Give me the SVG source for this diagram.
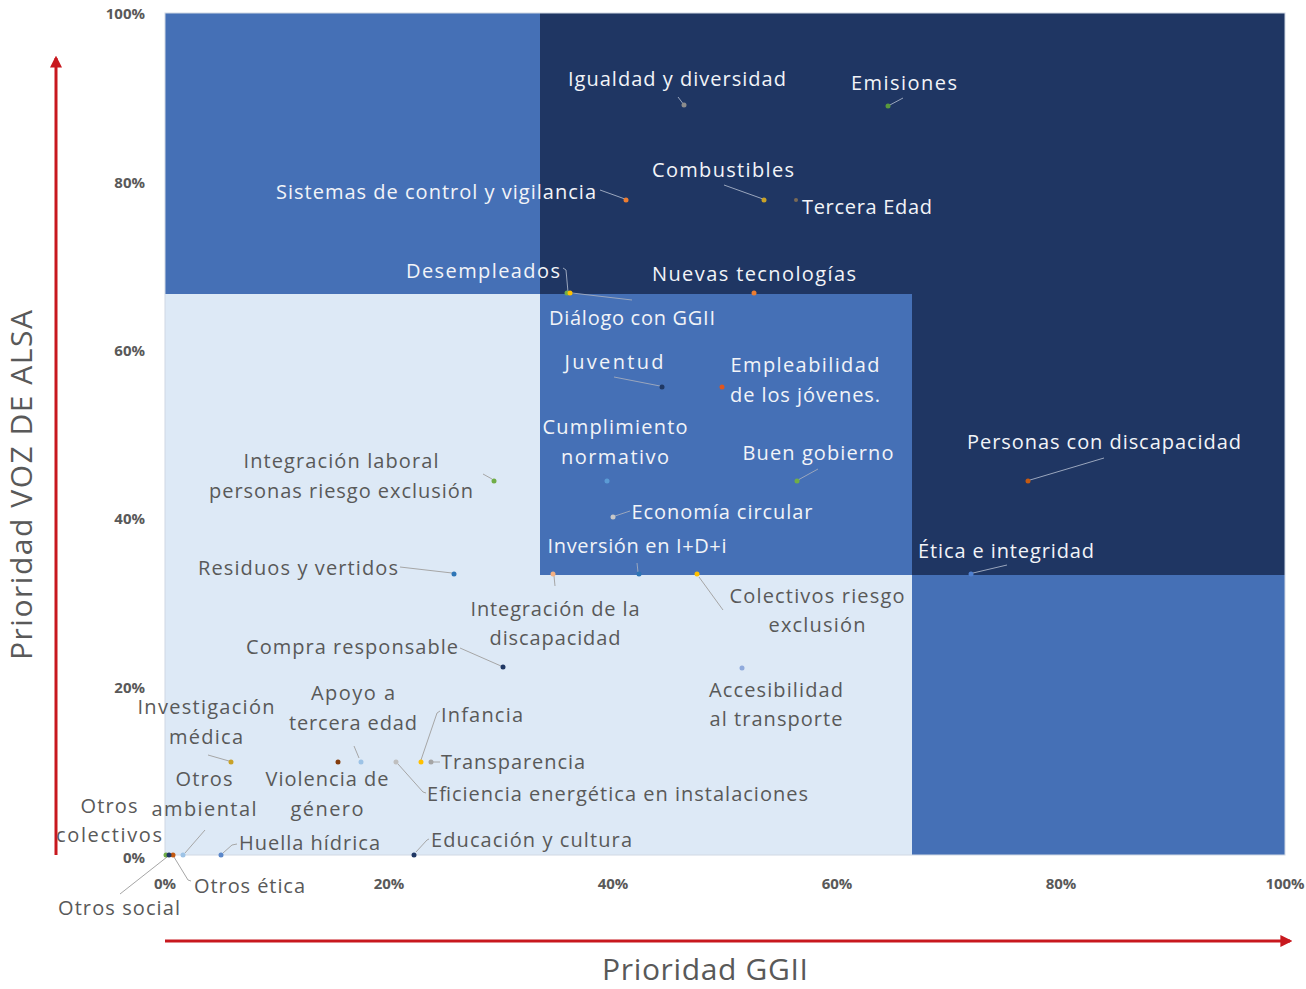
<svg xmlns="http://www.w3.org/2000/svg" width="1306" height="989" viewBox="0 0 1306 989">
<style>
text{font-family:"Open Sans","Liberation Sans",sans-serif}
.lw{font-size:20px;fill:#f2f4f8}
.lg{font-size:20px;fill:#595959}
.tk{font-size:15px;font-weight:bold;fill:#595959}
.ax{font-size:30px;fill:#595959}
.m{text-anchor:middle}
.cw{fill:none;stroke:#9aa6bd;stroke-width:1}
.cg{fill:none;stroke:#a6a6a6;stroke-width:1}
</style>
<defs>
<marker id="ah" viewBox="0 0 10 10" refX="8" refY="5" markerWidth="4" markerHeight="4" orient="auto"><path d="M0,0 L10,5 L0,10 z" fill="#c8181e"/></marker>
</defs>
<rect width="1306" height="989" fill="#ffffff"/>
<g id="quadrants">
<rect x="165" y="13" width="1120" height="842" fill="#4570b6"/>
<path d="M540,13 H1285 V575 H912 V294 H540 Z" fill="#1f3663"/>
<path d="M165,294 H540 V575 H912 V855 H165 Z" fill="#dde9f6"/>
<rect x="165" y="13" width="1120" height="842" fill="none" stroke="#d0d8e4" stroke-width="1"/>
</g>
<g id="axes">
<line x1="56" y1="855" x2="56" y2="58" stroke="#c8181e" stroke-width="3" marker-end="url(#ah)"/>
<line x1="165" y1="941" x2="1290" y2="941" stroke="#c8181e" stroke-width="3" marker-end="url(#ah)"/>
<text class="ax m" transform="translate(32,485) rotate(-90)" textLength="350">Prioridad VOZ DE ALSA</text>
<text class="ax m" x="705" y="980" textLength="206">Prioridad GGII</text>
<g text-anchor="end">
<text class="tk" x="145" y="19">100%</text>
<text class="tk" x="145" y="188">80%</text>
<text class="tk" x="145" y="356">60%</text>
<text class="tk" x="145" y="524">40%</text>
<text class="tk" x="145" y="693">20%</text>
<text class="tk" x="145" y="863">0%</text>
</g>
<g text-anchor="middle">
<text class="tk" x="165" y="889">0%</text>
<text class="tk" x="389" y="889">20%</text>
<text class="tk" x="613" y="889">40%</text>
<text class="tk" x="837" y="889">60%</text>
<text class="tk" x="1061" y="889">80%</text>
<text class="tk" x="1285" y="889">100%</text>
</g>
</g>
<g id="connectors">
<path class="cw" d="M678,97 L684,105"/>
<path class="cw" d="M888,106 L903,98"/>
<path class="cw" d="M724,185 L763,199"/>
<path class="cw" d="M600,190 L625,199"/>
<path class="cw" d="M563,268 L566,270 L568,292"/>
<path class="cw" d="M572,293 L632,300"/>
<path class="cw" d="M614,377 L660,386"/>
<path class="cw" d="M798,480 L818,469"/>
<path class="cw" d="M615,516 L630,511"/>
<path class="cw" d="M637,563 L638,572"/>
<path class="cw" d="M1030,480 L1104,458"/>
<path class="cw" d="M973,573 L1007,565"/>
<path class="cg" d="M483,474 L492,479"/>
<path class="cg" d="M400,567 L452,573"/>
<path class="cg" d="M554,576 L555,586"/>
<path class="cg" d="M699,577 L723,610"/>
<path class="cg" d="M460,648 L501,666"/>
<path class="cg" d="M421,760 L437,713 L440,711"/>
<path class="cg" d="M433,762 L440,762"/>
<path class="cg" d="M398,764 L423,792 L426,793"/>
<path class="cg" d="M416,852 L427,840 L429,839"/>
<path class="cg" d="M354,746 L359,758"/>
<path class="cg" d="M208,755 L229,761"/>
<path class="cg" d="M205,830 L185,853"/>
<path class="cg" d="M223,853 L232,845 L237,844"/>
<path class="cg" d="M174,857 L188,880 L191,881"/>
<path class="cg" d="M120,894 L167,857"/>
</g>
<g id="n-igualdad"><circle cx="684" cy="105" r="2.5" fill="#8c8c8c"/><text class="lw m" x="677" y="86" textLength="218">Igualdad y diversidad</text></g>
<g id="n-emisiones"><circle cx="888" cy="106" r="2.5" fill="#5a9a3c"/><text class="lw m" x="904" y="90" textLength="106">Emisiones</text></g>
<g id="n-combustibles"><circle cx="764" cy="200" r="2.5" fill="#c9a227"/><text class="lw m" x="723" y="177" textLength="142">Combustibles</text></g>
<g id="n-tercera"><circle cx="796" cy="200" r="2" fill="#7a6a55"/><text class="lw" x="802" y="214" textLength="130">Tercera Edad</text></g>
<g id="n-sistemas"><circle cx="626" cy="200" r="2.5" fill="#ed7d31"/><text class="lw m" x="436" y="199" textLength="320">Sistemas de control y vigilancia</text></g>
<g id="n-desempleados"><circle cx="567" cy="293" r="2.5" fill="#70ad47"/><text class="lw m" x="483" y="278" textLength="154">Desempleados</text></g>
<g id="n-nuevas"><circle cx="754" cy="293" r="2.5" fill="#ed7d31"/><text class="lw m" x="754" y="281" textLength="204">Nuevas tecnologías</text></g>
<g id="n-dialogo"><circle cx="570" cy="293" r="2.5" fill="#ffc000"/><text class="lw m" x="632" y="325" textLength="166">Diálogo con GGII</text></g>
<g id="n-juventud"><circle cx="662" cy="387" r="2.5" fill="#1f3864"/><text class="lw m" x="614" y="369" textLength="99">Juventud</text></g>
<g id="n-empleabilidad"><circle cx="722" cy="387" r="2.5" fill="#e0561e"/><text class="lw m" x="805" y="372" textLength="149">Empleabilidad</text><text class="lw m" x="805" y="402" textLength="150">de los jóvenes.</text></g>
<g id="n-cumplimiento"><circle cx="607" cy="481" r="2.5" fill="#5b9bd5"/><text class="lw m" x="615" y="434" textLength="145">Cumplimiento</text><text class="lw m" x="615" y="464" textLength="108">normativo</text></g>
<g id="n-buen"><circle cx="797" cy="481" r="2.5" fill="#70ad47"/><text class="lw m" x="818" y="460" textLength="151">Buen gobierno</text></g>
<g id="n-economia"><circle cx="613" cy="517" r="2.5" fill="#c8c8c8"/><text class="lw m" x="722" y="519" textLength="181">Economía circular</text></g>
<g id="n-inversion"><circle cx="639" cy="574" r="2.5" fill="#2e75b6"/><text class="lw m" x="637" y="553" textLength="179">Inversión en I+D+i</text></g>
<g id="n-personas"><circle cx="1028" cy="481" r="2.5" fill="#c55a11"/><text class="lw m" x="1104" y="449" textLength="274">Personas con discapacidad</text></g>
<g id="n-etica"><circle cx="971" cy="574" r="2.5" fill="#4f7fcf"/><text class="lw m" x="1006" y="558" textLength="176">Ética e integridad</text></g>
<g id="n-integracion-laboral"><circle cx="494" cy="481" r="2.5" fill="#70ad47"/><text class="lg m" x="341" y="468" textLength="195">Integración laboral</text><text class="lg m" x="341" y="498" textLength="264">personas riesgo exclusión</text></g>
<g id="n-residuos"><circle cx="454" cy="574" r="2.5" fill="#2e75b6"/><text class="lg m" x="298" y="575" textLength="200">Residuos y vertidos</text></g>
<g id="n-integracion-discapacidad"><circle cx="553" cy="574" r="2.5" fill="#f4b183"/><text class="lg m" x="555" y="616" textLength="169">Integración de la</text><text class="lg m" x="555" y="645" textLength="131">discapacidad</text></g>
<g id="n-colectivos"><circle cx="697" cy="574" r="2.5" fill="#ffc000"/><text class="lg m" x="817" y="603" textLength="175">Colectivos riesgo</text><text class="lg m" x="817" y="632" textLength="97">exclusión</text></g>
<g id="n-compra"><circle cx="503" cy="667" r="2.5" fill="#203864"/><text class="lg m" x="352" y="654" textLength="212">Compra responsable</text></g>
<g id="n-accesibilidad"><circle cx="742" cy="668" r="2.5" fill="#8faadc"/><text class="lg m" x="776" y="697" textLength="134">Accesibilidad</text><text class="lg m" x="776" y="726" textLength="133">al transporte</text></g>
<g id="n-infancia"><circle cx="421" cy="762" r="2.5" fill="#ffc000"/><text class="lg" x="441" y="722" textLength="82">Infancia</text></g>
<g id="n-transparencia"><circle cx="431" cy="762" r="2.5" fill="#a5a5a5"/><text class="lg" x="441" y="769" textLength="144">Transparencia</text></g>
<g id="n-eficiencia"><circle cx="396" cy="762" r="2.5" fill="#bfbfbf"/><text class="lg" x="427" y="801" textLength="381">Eficiencia energética en instalaciones</text></g>
<g id="n-educacion"><circle cx="414" cy="855" r="2.5" fill="#203864"/><text class="lg" x="431" y="847" textLength="201">Educación y cultura</text></g>
<g id="n-apoyo"><circle cx="361" cy="762" r="2.5" fill="#9dc3e6"/><text class="lg m" x="353" y="700" textLength="84">Apoyo a</text><text class="lg m" x="353" y="730" textLength="128">tercera edad</text></g>
<g id="n-violencia"><circle cx="338" cy="762" r="2.5" fill="#843c0c"/><text class="lg m" x="327" y="786" textLength="123">Violencia de</text><text class="lg m" x="327" y="816" textLength="73">género</text></g>
<g id="n-investigacion"><circle cx="231" cy="762" r="2.5" fill="#c9a227"/><text class="lg m" x="206" y="714" textLength="137">Investigación</text><text class="lg m" x="206" y="744" textLength="74">médica</text></g>
<g id="n-otros-ambiental"><circle cx="183" cy="855" r="2.5" fill="#9dc3e6"/><text class="lg m" x="204" y="786" textLength="57">Otros</text><text class="lg m" x="204" y="816" textLength="105">ambiental</text></g>
<g id="n-otros-colectivos"><circle cx="166" cy="855" r="2.5" fill="#70ad47"/><text class="lg m" x="109" y="813" textLength="57">Otros</text><text class="lg m" x="109" y="842" textLength="106">colectivos</text></g>
<g id="n-huella"><circle cx="221" cy="855" r="2.5" fill="#5b87c9"/><text class="lg" x="239" y="850" textLength="141">Huella hídrica</text></g>
<g id="n-otros-etica"><circle cx="173" cy="855" r="2.5" fill="#c55a11"/><text class="lg" x="194" y="893" textLength="111">Otros ética</text></g>
<g id="n-otros-social"><circle cx="169" cy="855" r="2.5" fill="#203864"/><text class="lg m" x="119" y="915" textLength="122">Otros social</text></g>
</svg>
